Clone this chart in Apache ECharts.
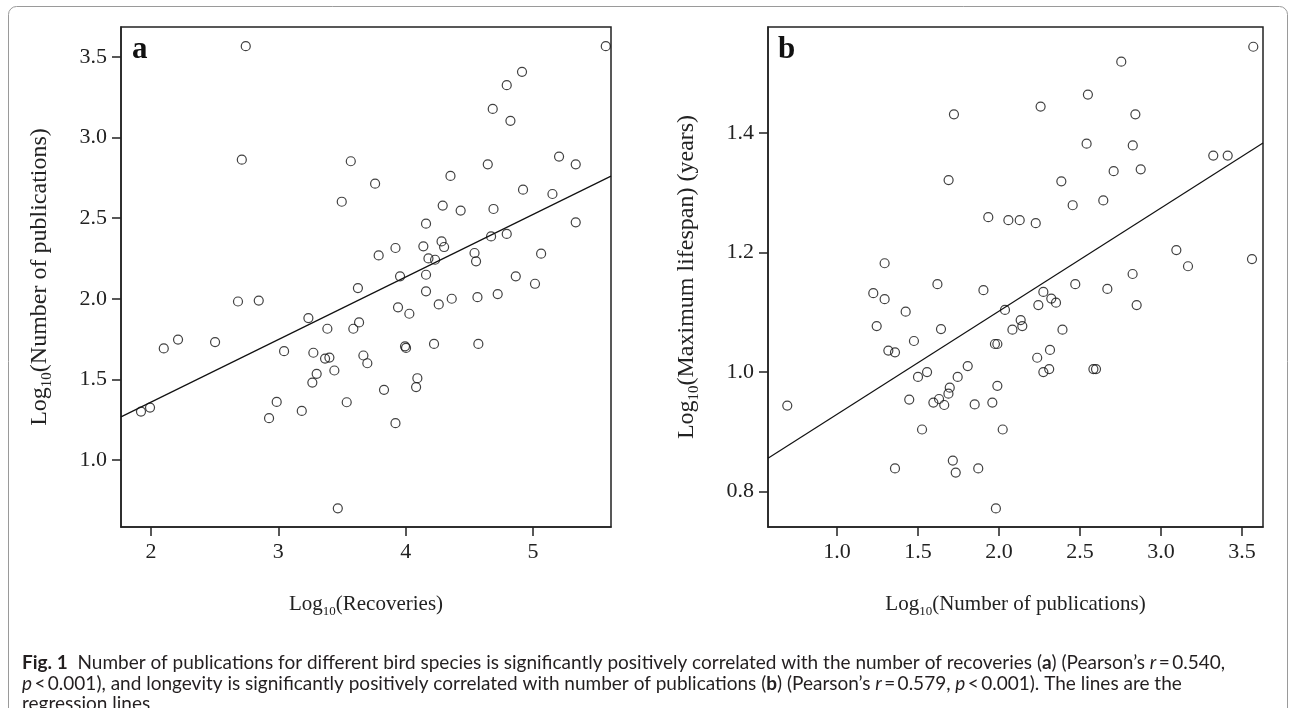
<!DOCTYPE html>
<html>
<head>
<meta charset="utf-8">
<script src="https://cdn.jsdelivr.net/npm/echarts@6/dist/echarts.min.js"></script>
<style>
  html, body { margin: 0; padding: 0; background: #fff; }
  #chart { width: 1295px; height: 708px; }
</style>
</head>
<body>
<div id="chart"></div>
<script>
// panel a: log10(recoveries) vs log10(number of publications)
const recoveriesA = [
  2.744, 2.713, 3.569, 3.498, 3.625, 2.683, 2.846, 5.572, 4.914, 4.794,
  4.684, 4.823, 3.760, 4.645, 5.205, 5.336, 4.352, 4.922, 5.153, 4.291,
  4.432, 4.690, 5.336, 4.160, 3.788, 3.920, 4.139, 4.282, 4.302, 4.671,
  4.794, 5.064, 4.179, 4.231, 4.541, 4.553, 3.956, 4.160, 4.865, 5.016,
  4.160, 3.940, 4.260, 4.362, 4.564, 4.723, 4.029, 3.634, 3.589, 3.995,
  4.003, 4.223, 4.571, 3.668, 3.699, 4.092, 4.082, 3.830, 3.537, 3.920,
  3.236, 3.385, 2.100, 2.212, 2.503, 3.045, 3.275, 3.367, 3.401, 3.440,
  3.301, 3.267, 1.921, 1.992, 2.987, 2.927, 3.184, 3.467
];
const publicationsA = [
  3.567, 2.863, 2.853, 2.602, 2.066, 1.983, 1.989, 3.567, 3.408, 3.325,
  3.178, 3.104, 2.714, 2.834, 2.882, 2.834, 2.762, 2.677, 2.650, 2.578,
  2.547, 2.557, 2.474, 2.466, 2.269, 2.315, 2.325, 2.356, 2.321, 2.387,
  2.402, 2.280, 2.250, 2.242, 2.284, 2.232, 2.139, 2.149, 2.139, 2.093,
  2.046, 1.947, 1.965, 2.000, 2.010, 2.029, 1.907, 1.853, 1.814, 1.705,
  1.695, 1.720, 1.720, 1.648, 1.600, 1.507, 1.452, 1.435, 1.358, 1.228,
  1.880, 1.814, 1.692, 1.747, 1.731, 1.675, 1.665, 1.629, 1.635, 1.555,
  1.534, 1.480, 1.300, 1.325, 1.360, 1.259, 1.304, 0.700
];

// panel b: log10(number of publications) vs log10(maximum lifespan)
const publicationsB = [
  1.722, 1.689, 1.934, 2.058, 2.128, 2.227, 1.294, 1.620, 1.224, 1.294,
  1.904, 1.424, 2.037, 3.570, 2.755, 2.549, 2.257, 2.842, 2.541, 2.826,
  2.708, 2.875, 3.323, 3.412, 2.385, 2.455, 2.644, 3.095, 3.167, 3.562,
  2.825, 2.471, 2.669, 2.274, 2.323, 2.352, 2.243, 2.850, 2.134, 2.083,
  2.144, 2.392, 2.315, 2.236, 2.310, 2.274, 2.583, 2.599, 1.975, 1.990,
  1.990, 2.023, 1.981, 1.245, 1.642, 1.475, 1.317, 1.358, 1.807, 1.556,
  1.500, 1.745, 1.696, 1.688, 1.630, 1.595, 1.662, 1.446, 1.850, 1.959,
  0.693, 1.525, 1.358, 1.715, 1.733, 1.872
];
const lifespanB = [
  1.431, 1.321, 1.259, 1.254, 1.254, 1.249, 1.182, 1.147, 1.132, 1.122,
  1.137, 1.101, 1.104, 1.544, 1.519, 1.464, 1.444, 1.431, 1.382, 1.379,
  1.336, 1.339, 1.362, 1.362, 1.319, 1.279, 1.287, 1.204, 1.177, 1.189,
  1.164, 1.147, 1.139, 1.134, 1.123, 1.116, 1.112, 1.112, 1.087, 1.071,
  1.077, 1.071, 1.037, 1.024, 1.005, 1.000, 1.005, 1.005, 1.047, 1.047,
  0.977, 0.904, 0.772, 1.077, 1.072, 1.052, 1.036, 1.033, 1.010, 1.000,
  0.992, 0.992, 0.974, 0.964, 0.955, 0.949, 0.945, 0.954, 0.946, 0.949,
  0.944, 0.904, 0.839, 0.852, 0.832, 0.839
];

// regression lines [intercept, slope]
const fitA = [0.583, 0.388];
const fitB = [0.757, 0.1725];

// tick values
const ticksAx = [2, 3, 4, 5];
const ticksAy = [1.0, 1.5, 2.0, 2.5, 3.0, 3.5];
const ticksBx = [1.0, 1.5, 2.0, 2.5, 3.0, 3.5];
const ticksBy = [0.8, 1.0, 1.2, 1.4];

const rangeAx = [1.764, 5.613], rangeAy = [0.584, 3.686];
const rangeBx = [0.574, 3.630], rangeBy = [0.741, 1.577];

const SERIF = "'Liberation Serif', 'Times New Roman', serif";
const SANS = "Lato, 'Open Sans', sans-serif";
const INK = '#222';
const CAP = '#231f20';

const pairs = (xs, ys) => xs.map((x, i) => [x, ys[i]]);
const fitLine = (fit, r) => r.map(x => [x, fit[0] + fit[1] * x]);

// axis titles with a subscript 10
const richFor = size => ({
  n: { fontSize: size, fontFamily: SERIF, color: INK, lineHeight: size + 6 },
  s: { fontSize: Math.round(size * 0.62), fontFamily: SERIF, color: INK, lineHeight: size + 6, verticalAlign: 'bottom' }
});

function axis(grid, range, ticks, fmt, name, gap, nameSize) {
  return {
    gridIndex: grid, type: 'value', min: range[0], max: range[1],
    axisLine: { show: true, onZero: false, lineStyle: { color: INK, width: 1.5 } },
    axisTick: { show: true, length: 9, customValues: ticks, lineStyle: { color: INK, width: 1.5 } },
    axisLabel: { customValues: ticks, formatter: fmt, fontSize: 22, fontFamily: SERIF, color: INK, margin: 14 },
    splitLine: { show: false },
    name: name, nameLocation: 'middle', nameGap: gap,
    nameTextStyle: { rich: richFor(nameSize) }
  };
}

const scatterStyle = {
  symbol: 'circle', symbolSize: 9, silent: true,
  itemStyle: { color: 'rgba(0,0,0,0)', borderColor: '#111', borderWidth: 1.2 }
};
const lineStyle = {
  type: 'line', showSymbol: false, silent: true,
  lineStyle: { color: '#111', width: 1.2 }
};

const capRich = {
  b: { fontWeight: 'bold', fontSize: 19, fontFamily: SANS, fill: CAP },
  i: { fontStyle: 'italic', fontSize: 19, fontFamily: SANS, fill: CAP }
};
const capLine = (y, text) => ({
  type: 'text', x: 22, y: y, silent: true,
  style: { text: text, font: '19px ' + SANS, fill: CAP, verticalAlign: 'middle', rich: capRich }
});

const chart = echarts.init(document.getElementById('chart'), null, { renderer: 'canvas' });
chart.setOption({
  backgroundColor: '#fff',
  animation: false,
  grid: [
    { left: 121, top: 27, width: 490, height: 500, show: true, borderColor: INK, borderWidth: 1.5 },
    { left: 768, top: 27, width: 495, height: 500, show: true, borderColor: INK, borderWidth: 1.5 }
  ],
  xAxis: [
    axis(0, rangeAx, ticksAx, v => String(v), '{n|Log}{s|10}{n|(Recoveries)}', 64, 21),
    axis(1, rangeBx, ticksBx, v => v.toFixed(1), '{n|Log}{s|10}{n|(Number of publications)}', 64, 21)
  ],
  yAxis: [
    axis(0, rangeAy, ticksAy, v => v.toFixed(1), '{n|Log}{s|10}{n|(Number of publications)}', 66, 24),
    axis(1, rangeBy, ticksBy, v => v.toFixed(1), '{n|Log}{s|10}{n|(Maximum lifespan) (years)}', 66, 24)
  ],
  series: [
    Object.assign({ type: 'scatter', xAxisIndex: 0, yAxisIndex: 0, data: pairs(recoveriesA, publicationsA) }, scatterStyle),
    Object.assign({ xAxisIndex: 0, yAxisIndex: 0, data: fitLine(fitA, rangeAx) }, lineStyle),
    Object.assign({ type: 'scatter', xAxisIndex: 1, yAxisIndex: 1, data: pairs(publicationsB, lifespanB) }, scatterStyle),
    Object.assign({ xAxisIndex: 1, yAxisIndex: 1, data: fitLine(fitB, rangeBx) }, lineStyle)
  ],
  graphic: [
    { type: 'rect', silent: true, z: -1,
      shape: { x: 8.5, y: 6.5, width: 1279, height: 710, r: 8 },
      style: { fill: 'none', stroke: '#9a9a9a', lineWidth: 1 } },
    { type: 'text', x: 132, y: 34, silent: true,
      style: { text: 'a', font: 'bold 31px ' + SERIF, fill: '#111', verticalAlign: 'top' } },
    { type: 'text', x: 778, y: 34, silent: true,
      style: { text: 'b', font: 'bold 31px ' + SERIF, fill: '#111', verticalAlign: 'top' } },
    capLine(663, '{b|Fig. 1}  Number of publications for different bird species is significantly positively correlated with the number of recoveries ({b|a}) (Pearson\u2019s {i|r}\u2009=\u20090.540,'),
    capLine(684, '{i|p}\u2009<\u20090.001), and longevity is significantly positively correlated with number of publications ({b|b}) (Pearson\u2019s {i|r}\u2009=\u20090.579, {i|p}\u2009<\u20090.001). The lines are the'),
    capLine(704, 'regression lines')
  ]
});
</script>
</body>
</html>
